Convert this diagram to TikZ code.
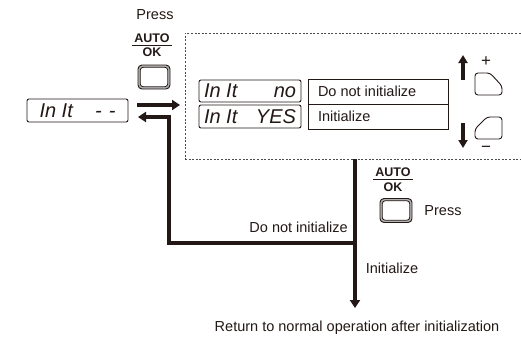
\documentclass[tikz,border=0pt]{standalone}
\usepackage{fontspec}
\setmainfont{Liberation Sans}
\usetikzlibrary{arrows.meta}
\definecolor{ink}{HTML}{231815}
\begin{document}
\begin{tikzpicture}[x=1pt,y=-1pt,
  every node/.style={text=ink},
  lbl/.style={font=\fontsize{14.5}{16}\selectfont, inner sep=0},
  keylbl/.style={font=\fontsize{12.5}{13}\selectfont\bfseries, inner sep=0},
  small/.style={font=\fontsize{17}{18}\selectfont, inner sep=0},
  disp/.style={draw=ink, line width=0.9pt, rounded corners=2pt, inner sep=0, font=\fontsize{20}{21}\selectfont\itshape},
  cell/.style={draw=ink, line width=0.9pt, minimum width=140, minimum height=25, inner sep=0, font=\fontsize{14.5}{16}\selectfont},
  keyout/.style={draw=ink, line width=0.9pt, fill=black!30, rounded corners=4pt, minimum width=32, minimum height=24, inner sep=0},
  keyin/.style={draw=ink, line width=0.8pt, fill=white, rounded corners=3pt, minimum width=27.5, minimum height=19.5, inner sep=0},
  frac/.style={draw=ink, line width=0.8pt},
  big/.style={draw=ink, line width=4pt, line join=miter, -{Triangle[length=8pt,width=10pt]}},
  updown/.style={draw=ink, line width=3.5pt, -{Triangle[length=8pt,width=9pt]}},
  panelbox/.style={draw=black!70, line width=0.8pt, dash pattern=on 2pt off 1.6pt, minimum width=355, minimum height=126, inner sep=0},
  side/.style={draw=ink, line width=0.9pt, rounded corners=3pt}
]
\useasboundingbox (0,0) rectangle (521,337);

% dashed panel
\node[panelbox] (panel) at (362.5,96) {};

% top key
\node[lbl] (press1) at (155,15) {Press};
\node[keylbl] (auto1) at (152,38) {AUTO};
\node[keylbl] (ok1) at (152,52) {OK};
\draw[frac] ([xshift=-2pt,yshift=-2.5pt]auto1.south west) -- ([xshift=2pt,yshift=-2.5pt]auto1.south east);
\node[keyout] (key1) at (154,77) {};
\node[keyin] (key1in) at (key1.center) {};

% left display
\node[disp, minimum width=101, minimum height=23] (d0) at (77.5,110.5)
  {\makebox[76pt]{In It\hfill-\hspace{7pt}-}};

% displays in panel
\node[disp, minimum width=102, minimum height=22] (d1) at (250,91)
  {\makebox[92pt]{In It\hfill no}};
\node[disp, minimum width=102, minimum height=23] (d2) at (250,116.5)
  {\makebox[92pt]{In It\hfill YES}};

% table
\node[cell] (t1) at (378,91.5) {\makebox[120pt][l]{Do not initialize}};
\node[cell] (t2) at (378,116.5) {\makebox[120pt][l]{Initialize}};

% side keys
\node[small] (plus) at (486,62) {+};
\node[small] (minus) at (486,149) {−};
\draw[side] (475,95) -- (475,73) -- (490,73) -- (502,86) -- (502,95) -- cycle;
\draw[side] (475,139) -- (475,129) -- (487,117) -- (502,117) -- (502,139) -- cycle;
\coordinate (ua) at (463,80);
\coordinate (ub) at (463,55);
\coordinate (da) at (463,123);
\coordinate (db) at (463,148);
\draw[updown] (ua) -- (ub);
\draw[updown] (da) -- (db);

% arrows between left display and panel
\coordinate (r1) at (137,105);
\coordinate (r2) at (180,105);
\draw[big] (r1) -- (r2);

\coordinate (j) at (panel.south -| 355,0);
\coordinate (jend) at (355,308);
\coordinate (jb) at (357,243);
\coordinate (c1) at (169,243);
\coordinate (c2) at (169,117);
\coordinate (tl) at (138,117);
\draw[big] (j) -- (jend);
\draw[big] (jb) -- (c1) -- (c2) -- (tl);

% lower key
\node[keylbl] (auto2) at (393,172) {AUTO};
\node[keylbl] (ok2) at (393,187) {OK};
\draw[frac] ([xshift=-2pt,yshift=-2.5pt]auto2.south west) -- ([xshift=2pt,yshift=-2.5pt]auto2.south east);
\node[keyout] (key2) at (396,210.5) {};
\node[keyin] (key2in) at (key2.center) {};
\node[lbl] (press2) at (443,211) {Press};

% branch labels
\node[lbl, anchor=east] (dni) at (348,227) {Do not initialize};
\node[lbl] (ini) at (392,268) {Initialize};
\node[lbl] (ret) at (357,328) {Return to normal operation after initialization};
\end{tikzpicture}
\end{document}
